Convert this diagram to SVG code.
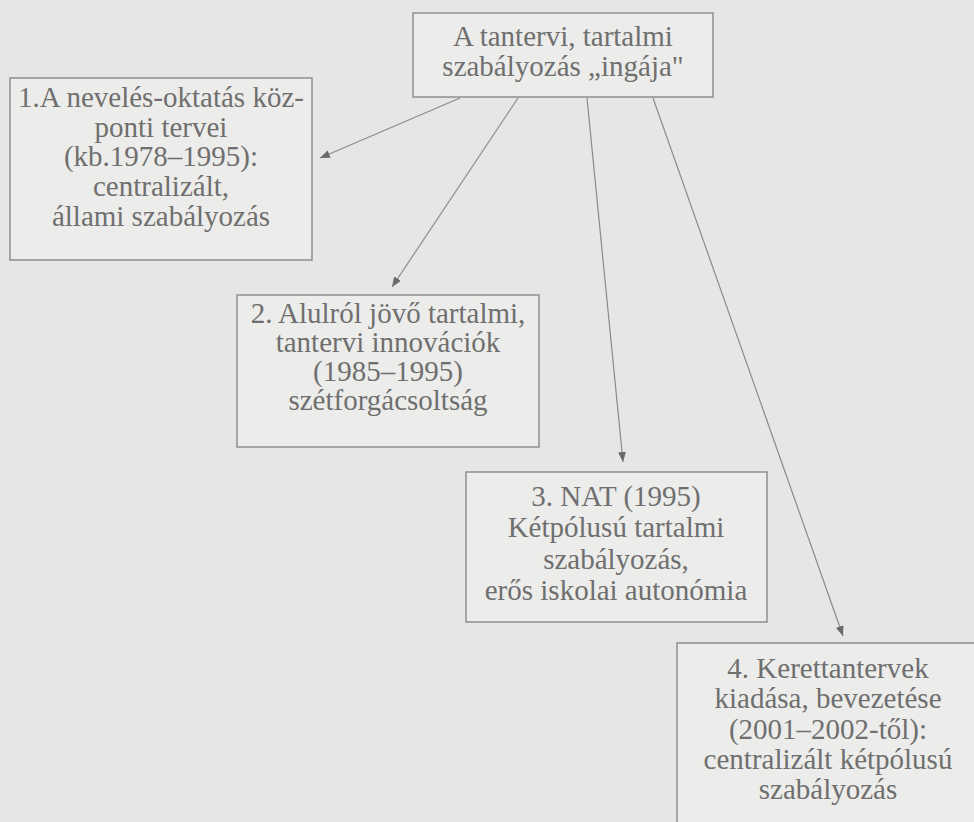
<svg xmlns="http://www.w3.org/2000/svg" width="974" height="822" viewBox="0 0 974 822">
<style>
.box{fill:#ececea;stroke:#8e8e8e;stroke-width:1.5}
.t{font-family:"Liberation Serif","Times New Roman",serif;font-size:29px;fill:#6f6f6f;text-anchor:middle}
.c{stroke:#8a8a8a;stroke-width:1.2;fill:none;marker-end:url(#ah)}
</style>
<defs>
<marker id="ah" viewBox="0 0 10 8" refX="10" refY="4" markerWidth="10" markerHeight="8" markerUnits="userSpaceOnUse" orient="auto">
<path d="M0,0 L10,4 L0,8 Z" fill="#6a6a6a"/>
</marker>
</defs>
<rect width="974" height="822" fill="#e6e6e4"/>
<g id="connectors">
<line class="c" x1="460" y1="98" x2="320" y2="158"/>
<line class="c" x1="518" y1="98" x2="392" y2="287"/>
<line class="c" x1="587" y1="98" x2="623" y2="462"/>
<line class="c" x1="653" y1="98" x2="843" y2="636"/>
</g>
<g id="top">
<rect class="box" x="413" y="13" width="300" height="84"/>
<text class="t" x="563" y="46">A tantervi, tartalmi</text>
<text class="t" x="563" y="76">szabályozás „ingája"</text>
</g>
<g id="n1">
<rect class="box" x="10" y="78" width="302" height="182"/>
<text class="t" x="161" y="107">1.A nevelés-oktatás köz-</text>
<text class="t" x="161" y="137">ponti tervei</text>
<text class="t" x="161" y="166">(kb.1978–1995):</text>
<text class="t" x="161" y="196">centralizált,</text>
<text class="t" x="161" y="226">állami szabályozás</text>
</g>
<g id="n2">
<rect class="box" x="237" y="295" width="302" height="152"/>
<text class="t" x="388" y="323">2. Alulról jövő tartalmi,</text>
<text class="t" x="388" y="352">tantervi innovációk</text>
<text class="t" x="388" y="381">(1985–1995)</text>
<text class="t" x="388" y="410">szétforgácsoltság</text>
</g>
<g id="n3">
<rect class="box" x="466" y="472" width="301" height="150"/>
<text class="t" x="616" y="506">3. NAT (1995)</text>
<text class="t" x="616" y="537">Kétpólusú tartalmi</text>
<text class="t" x="616" y="569">szabályozás,</text>
<text class="t" x="616" y="600">erős iskolai autonómia</text>
</g>
<g id="n4">
<rect class="box" x="677" y="643" width="320" height="200"/>
<text class="t" x="828" y="678">4. Kerettantervek</text>
<text class="t" x="828" y="708">kiadása, bevezetése</text>
<text class="t" x="828" y="739">(2001–2002-től):</text>
<text class="t" x="828" y="769">centralizált kétpólusú</text>
<text class="t" x="828" y="799">szabályozás</text>
</g>
</svg>
